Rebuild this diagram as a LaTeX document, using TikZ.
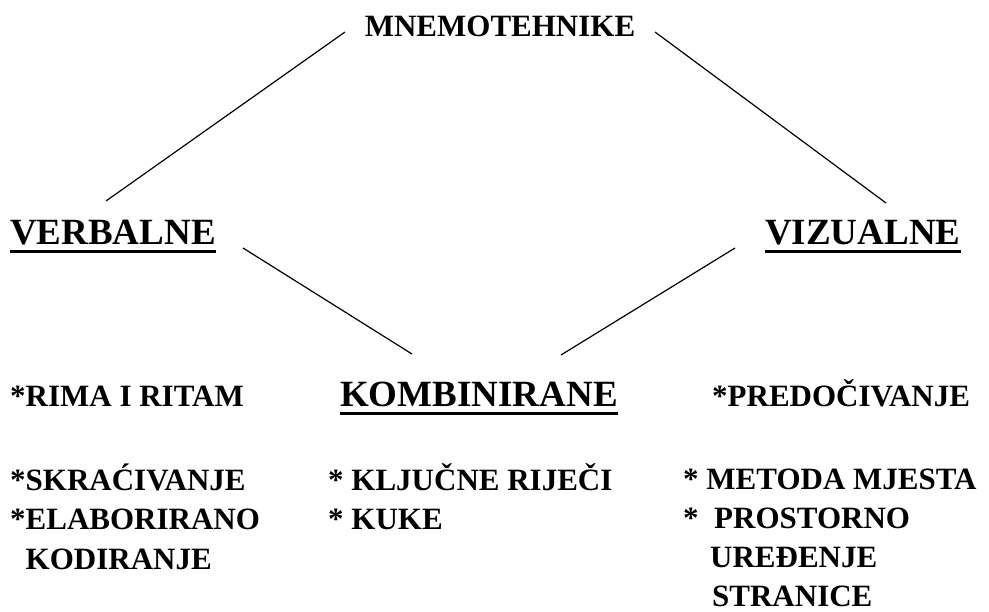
\documentclass[tikz,border=0pt]{standalone}
\usepackage{fontspec}
\setmainfont{Liberation Serif}
\usetikzlibrary{positioning}
\newcommand{\podcrtano}[1]{\setbox0\hbox{#1}\rlap{\usebox0}\rule[-8pt]{\wd0}{3pt}}
\tikzstyle{vrh} =[font=\bfseries\fontsize{31}{38}\selectfont, inner sep=0pt]
\tikzstyle{naslov} =[font=\bfseries\fontsize{37}{44}\selectfont, inner sep=0pt, anchor=base west]
\tikzstyle{stavka} =[font=\bfseries\fontsize{31}{39.5}\selectfont, inner sep=0pt, anchor=base west, align=left]
\tikzstyle{veza} =[line width=1.2pt]

\begin{document}
\begin{tikzpicture}[x=1pt,y=-1pt]
	\useasboundingbox (0,0) rectangle (989,612);
	% glavni pojam
	\node[vrh, anchor=base] (mnem) at (500,37) {MNEMOTEHNIKE};
	% vrste
	\node[naslov] (verb) at (10,245) {\podcrtano{VERBALNE}};
	\node[naslov] (vizu) at (765,245) {\podcrtano{VIZUALNE}};
	\node[naslov] (komb) at (340,407) {\podcrtano{KOMBINIRANE}};
	% tehnike (base = zadnji redak)
	\node[stavka] (rima) at (10,407) {*RIMA I RITAM};
	\node[stavka] (skra) at (10,569) {*SKRAĆIVANJE\\*ELABORIRANO\\\phantom{*}KODIRANJE};
	\node[stavka] (kljuc) at (328,529.5) {* KLJUČNE RIJEČI\\* KUKE};
	\node[stavka] (pred) at (712,407) {*PREDOČIVANJE};
	\node[stavka, font=\bfseries\fontsize{31}{38.8}\selectfont] (meto) at (683,606) {* METODA MJESTA\\*\ \ PROSTORNO\\\hspace*{27pt}UREĐENJE\\\hspace*{29pt}STRANICE};
	% krajevi veza
	\coordinate (m1) at (345,32);
	\coordinate (m2) at (655,32);
	\coordinate (v1) at (106,201);
	\coordinate (v2) at (243,248);
	\coordinate (z1) at (886,203);
	\coordinate (z2) at (735,248);
	\coordinate (k1) at (412,354);
	\coordinate (k2) at (561,355);
	\draw[veza] (m1) -- (v1);
	\draw[veza] (m2) -- (z1);
	\draw[veza] (v2) -- (k1);
	\draw[veza] (z2) -- (k2);
\end{tikzpicture}
\end{document}
